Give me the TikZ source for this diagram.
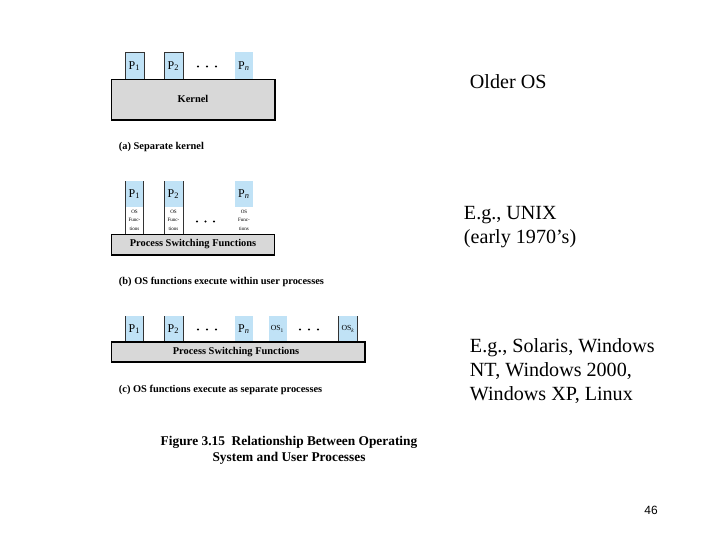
\documentclass[tikz,border=0pt]{standalone}
\usepackage{fontspec}
\setmainfont{Liberation Serif}
\newfontfamily\pagenumfont{Liberation Sans}
\usetikzlibrary{positioning}
\definecolor{procblue}{RGB}{192,226,246}
\definecolor{kernelgray}{RGB}{216,216,216}
\begin{document}
\begin{tikzpicture}[x=.025cm,y=-.025cm,
    procbox/.style={fill=procblue},
    procside/.style={draw=black!80,line width=.5pt},
    barbox/.style={fill=kernelgray,draw=black,line width=1pt},
    barlabel/.style={font=\fontsize{7.4}{8}\selectfont\bfseries},
    plabel/.style={font=\fontsize{8.5}{9}\selectfont},
    oslabel/.style={font=\fontsize{5.5}{6}\selectfont},
    osfunc/.style={font=\fontsize{3.6}{6}\selectfont,align=center},
    caption/.style={font=\fontsize{7.4}{8}\selectfont\bfseries,anchor=west},
    note/.style={font=\fontsize{14.3}{17}\selectfont,anchor=west,align=left}]
  \useasboundingbox[fill=white] (0,0) rectangle (720,540);

  % (a) separate kernel
  \fill[procbox] (125,52) rectangle (144,79);
  \fill[procbox] (164,52) rectangle (183,79);
  \fill[procbox] (235,52) rectangle (253,79);
  \draw[procside] (125,79) |- (144,52) -- (144,79);
  \draw[procside] (164,79) |- (183,52) -- (183,79);
  \node[plabel] (a p1) at (134.5,66) {P\textsubscript{1}};
  \node[plabel] (a p2) at (173.5,66) {P\textsubscript{2}};
  \node[plabel] (a pn) at (244,66) {P\textsubscript{\itshape n}};
  \foreach \x in {198,207,216} \fill (\x,66.5) circle (1.2);
  \filldraw[barbox] (111.5,79.5) rectangle (275,120);
  \node[barlabel] (kernel) at (193,99) {Kernel};
  \node[caption] (cap a) at (114,147) {(a) Separate kernel};

  % (b) OS functions within user processes
  \fill[procbox] (125.5,181) rectangle (143.5,207);
  \fill[procbox] (164.5,181) rectangle (183,207);
  \fill[procbox] (235,181) rectangle (253,207);
  \draw[procside] (125.5,234) -- (125.5,181) (143.5,181) -- (143.5,234);
  \draw[procside] (164.5,234) -- (164.5,181) (183,181) -- (183,234);
  \node[plabel] (b p1) at (134.5,194) {P\textsubscript{1}};
  \node[plabel] (b p2) at (173.5,194) {P\textsubscript{2}};
  \node[plabel] (b pn) at (244,194) {P\textsubscript{\itshape n}};
  \node[osfunc] (b os1) at (134.5,220) {OS\\Func-\\tions};
  \node[osfunc] (b os2) at (173.5,220) {OS\\Func-\\tions};
  \node[osfunc] (b osn) at (244,220) {OS\\Func-\\tions};
  \foreach \x in {197,205.5,214} \fill (\x,221.5) circle (1.2);
  \filldraw[barbox] (111.5,234.5) rectangle (274.5,255);
  \node[barlabel] (b switch) at (193,244.5) {Process Switching Functions};
  \node[caption] (cap b) at (114,282) {(b) OS functions execute within user processes};

  % (c) OS functions as separate processes
  \fill[procbox] (125.5,316) rectangle (143.5,342);
  \fill[procbox] (164.5,316) rectangle (183,342);
  \fill[procbox] (235,316) rectangle (253,342);
  \fill[procbox] (268.5,316) rectangle (287,342);
  \fill[procbox] (338.5,316) rectangle (357,342);
  \draw[procside] (125.5,342) -- (125.5,316) (143.5,316) -- (143.5,342);
  \draw[procside] (164.5,342) -- (164.5,316) (183,316) -- (183,342);
  \draw[procside] (338.5,342) -- (338.5,316) (357,316) -- (357,342);
  \node[plabel] (c p1) at (134.5,329) {P\textsubscript{1}};
  \node[plabel] (c p2) at (173.5,329) {P\textsubscript{2}};
  \node[plabel] (c pn) at (244,329) {P\textsubscript{\itshape n}};
  \node[oslabel] (c os1) at (277.5,329) {OS\textsubscript{1}};
  \node[oslabel] (c osk) at (348,329) {OS\textsubscript{\itshape k}};
  \foreach \x in {198,207,216} \fill (\x,329.5) circle (1.2);
  \foreach \x in {300,309,318} \fill (\x,329.5) circle (1.2);
  \filldraw[barbox] (111.5,342) rectangle (365,362);
  \node[barlabel] (c switch) at (236,352) {Process Switching Functions};
  \node[caption] (cap c) at (114,390) {(c) OS functions execute as separate processes};

  % figure caption
  \node[font=\fontsize{9.5}{11.3}\selectfont\bfseries,align=center] (fig cap) at (289,450)
    {Figure 3.15\ \ Relationship Between Operating\\System and User Processes};

  % notes on the right
  \node[note] (older) at (465,82) {Older OS};
  \node[note] (unix) at (459,227) {E.g., UNIX\\(early 1970’s)};
  \node[note] (solaris) at (465,371) {E.g., Solaris, Windows\\NT, Windows 2000,\\Windows XP, Linux};

  \node[font=\pagenumfont\fontsize{8.5}{10}\selectfont] (page) at (651,510) {46};
\end{tikzpicture}
\end{document}
